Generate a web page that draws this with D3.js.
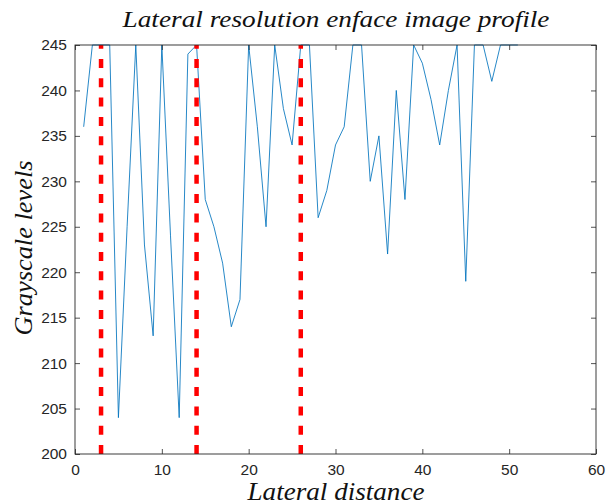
<!DOCTYPE html>
<html>
<head>
<meta charset="utf-8">
<script src="https://cdn.jsdelivr.net/npm/d3@7"></script>
<style>
  html, body { margin: 0; padding: 0; background: #fff; }
  svg { display: block; }
</style>
</head>
<body>
<svg id="chart" width="606" height="504"></svg>
<script>
// ---- data ----
const xValues = [1,2,3,4,5,6,7,8,9,10,11,12,13,14,15,16,17,18,19,20,21,22,23,24,25,26,27,28,29,30,31,32,33,34,35,36,37,38,39,40,41,42,43,44,45,46,47,48,49,50,51];
const grayLevels = [236,245,245,245,204,225,245,223,213,245,224,204,244,245,228,225,221,214,217,245,236,225,245,238,234,245,245,226,229,234,236,245,245,230,235,222,240,228,245,243,239,234,240,245,219,245,245,241,245,245,245];
const markerX = [3, 14, 26];
const xTicks = [0,10,20,30,40,50,60];
const yTicks = [200,205,210,215,220,225,230,235,240,245];
const titleText = "Lateral resolution enface image profile";
const xLabelText = "Lateral distance";
const yLabelText = "Grayscale levels";

// ---- layout ----
const svg = d3.select("#chart");
const L = 75, R = 596, T = 45, B = 454;
const x = d3.scaleLinear().domain([0, 60]).range([L, R]);
const y = d3.scaleLinear().domain([200, 245]).range([B, T]);
const axisColor = "#262626";

svg.append("defs").append("clipPath").attr("id", "clip")
  .append("rect").attr("x", L).attr("y", T - 1).attr("width", R - L).attr("height", B - T + 1);

const plot = svg.append("g").attr("clip-path", "url(#clip)");

// profile line
const line = d3.line().x((d, i) => x(xValues[i])).y(d => y(d));
plot.append("path")
  .datum(grayLevels)
  .attr("d", line)
  .attr("fill", "none")
  .attr("stroke", "#0072BD")
  .attr("stroke-width", 0.85);

// red dashed markers (drawn from bottom up)
plot.selectAll(".marker").data(markerX).enter().append("line")
  .attr("x1", d => x(d)).attr("x2", d => x(d))
  .attr("y1", y(200)).attr("y2", y(245))
  .attr("stroke", "#FF0000")
  .attr("stroke-width", 4.5)
  .attr("stroke-dasharray", "9,10.3");

// axes
const tickLen = 5;
const fmt = d3.format("d");
const gBottom = svg.append("g").attr("transform", `translate(0,${B})`)
  .call(d3.axisBottom(x).tickValues(xTicks).tickFormat(fmt).tickSizeInner(-tickLen).tickSizeOuter(0).tickPadding(10));
const gTop = svg.append("g").attr("transform", `translate(0,${T})`)
  .call(d3.axisTop(x).tickValues(xTicks).tickFormat("").tickSizeInner(-tickLen).tickSizeOuter(0));
const gLeft = svg.append("g").attr("transform", `translate(${L},0)`)
  .call(d3.axisLeft(y).tickValues(yTicks).tickFormat(fmt).tickSizeInner(-tickLen).tickSizeOuter(0).tickPadding(8));
const gRight = svg.append("g").attr("transform", `translate(${R},0)`)
  .call(d3.axisRight(y).tickValues(yTicks).tickFormat("").tickSizeInner(-tickLen).tickSizeOuter(0));

[gBottom, gTop, gLeft, gRight].forEach(g => {
  g.select(".domain").remove();
  g.selectAll(".tick line").attr("stroke", axisColor).attr("stroke-width", 0.8);
  g.selectAll(".tick text")
    .attr("fill", axisColor)
    .style("font-family", "'Liberation Sans', Arial, sans-serif")
    .style("font-size", "15.5px");
});

// box
svg.append("rect")
  .attr("x", L).attr("y", T).attr("width", R - L).attr("height", B - T)
  .attr("fill", "none").attr("stroke", axisColor).attr("stroke-width", 0.9);

// titles
const serif = "'Liberation Serif','DejaVu Serif',serif";
svg.append("text")
  .attr("x", 336).attr("y", 27)
  .attr("text-anchor", "middle")
  .attr("textLength", 427).attr("lengthAdjust", "spacingAndGlyphs")
  .style("font-family", serif).style("font-style", "italic").style("font-size", "24px")
  .attr("fill", "#111")
  .text(titleText);

svg.append("text")
  .attr("x", 336).attr("y", 500)
  .attr("text-anchor", "middle")
  .attr("textLength", 177).attr("lengthAdjust", "spacingAndGlyphs")
  .style("font-family", serif).style("font-style", "italic").style("font-size", "25px")
  .attr("fill", "#111")
  .text(xLabelText);

svg.append("text")
  .attr("transform", `translate(32,248) rotate(-90)`)
  .attr("text-anchor", "middle")
  .attr("textLength", 175).attr("lengthAdjust", "spacingAndGlyphs")
  .style("font-family", serif).style("font-style", "italic").style("font-size", "25px")
  .attr("fill", "#111")
  .text(yLabelText);
</script>
</body>
</html>
